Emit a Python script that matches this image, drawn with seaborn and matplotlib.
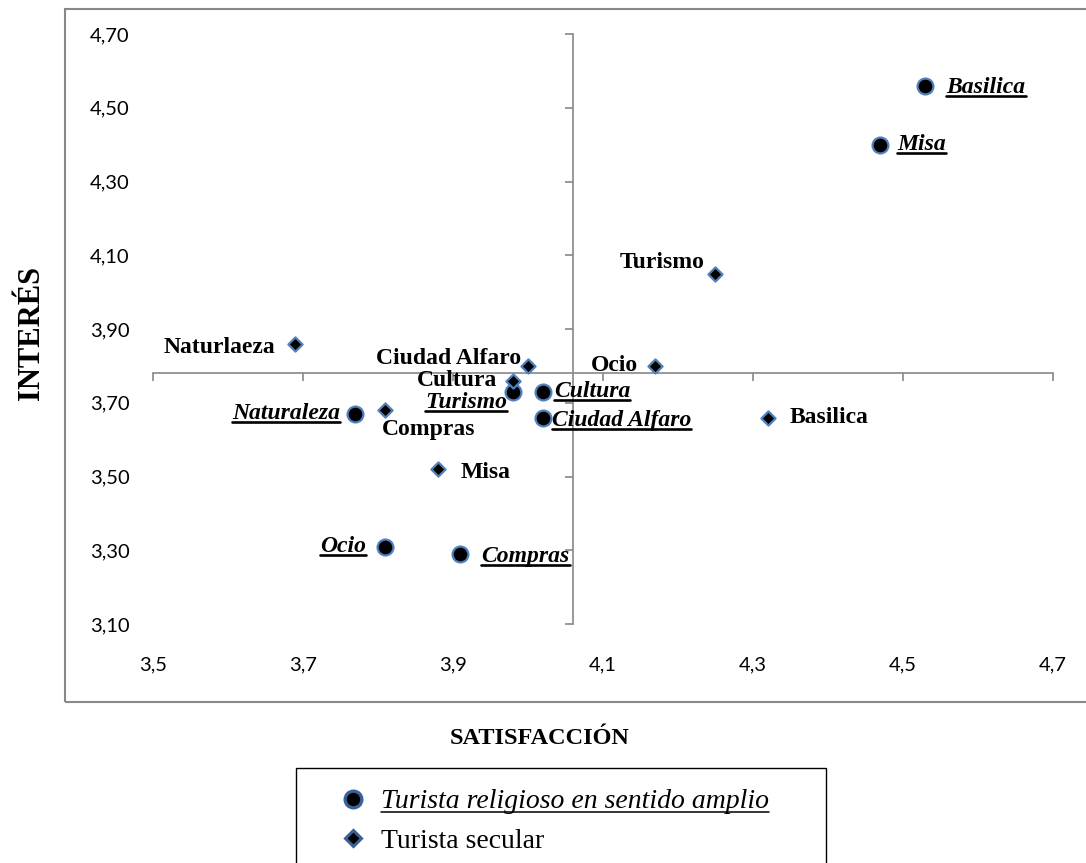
import matplotlib
matplotlib.use("Agg")
import matplotlib.pyplot as plt
from matplotlib.lines import Line2D
from matplotlib.patches import Rectangle
import seaborn as sns
import pandas as pd

# datos: turista religioso en sentido amplio (circulos)
act_rel = ['Basilica', 'Misa', 'Cultura', 'Turismo', 'Ciudad Alfaro', 'Naturaleza', 'Ocio', 'Compras']
sat_rel = [4.53, 4.47, 4.02, 3.98, 4.02, 3.77, 3.81, 3.91]
int_rel = [4.56, 4.40, 3.73, 3.73, 3.66, 3.67, 3.31, 3.29]

# datos: turista secular (rombos)
act_sec = ['Turismo', 'Ocio', 'Basilica', 'Naturlaeza', 'Ciudad Alfaro', 'Cultura', 'Compras', 'Misa']
sat_sec = [4.25, 4.17, 4.32, 3.69, 4.00, 3.98, 3.81, 3.88]
int_sec = [4.05, 3.80, 3.66, 3.86, 3.80, 3.76, 3.68, 3.52]

grupos = ['Turista religioso en sentido amplio', 'Turista secular']

x_ticks = [3.5, 3.7, 3.9, 4.1, 4.3, 4.5, 4.7]
x_ticklabels = ['3,5', '3,7', '3,9', '4,1', '4,3', '4,5', '4,7']
y_ticks = [3.10, 3.30, 3.50, 3.70, 3.90, 4.10, 4.30, 4.50, 4.70]
y_ticklabels = ['3,10', '3,30', '3,50', '3,70', '3,90', '4,10', '4,30', '4,50', '4,70']
cruce_x = 4.06   # donde se cruzan los ejes
cruce_y = 3.78

# desplazamiento de etiquetas (px) y alineacion
off_rel = [(21, -2, 'left'), (17, 0, 'left'), (11, 0, 'left'), (-6, -11, 'right'),
           (9, -3, 'left'), (-15, 0, 'right'), (-19, 0, 'right'), (21, -3, 'left')]
off_sec = [(-11, 11, 'right'), (-17, 0, 'right'), (22, 0, 'left'), (-20, -4, 'right'),
           (-7, 7, 'right'), (-16, 0, 'right'), (43, -19, 'center'), (23, -3, 'left')]

df_rel = pd.DataFrame({'sat': sat_rel, 'int': int_rel, 'act': act_rel})
df_sec = pd.DataFrame({'sat': sat_sec, 'int': int_sec, 'act': act_sec})

sns.set_style('white')
plt.rcParams['font.family'] = ['Liberation Serif', 'DejaVu Serif']
plt.rcParams['text.color'] = 'black'

W, H = 1086, 863
fig = plt.figure(figsize=(W / 100, H / 100), dpi=100)
ax = fig.add_axes([153 / W, (H - 624) / H, 900 / W, 590 / H])

sns.scatterplot(data=df_rel, x='sat', y='int', marker='o', s=130, color='black',
                edgecolor='#4f81bd', linewidth=1.6, ax=ax, legend=False, zorder=3)
sns.scatterplot(data=df_sec, x='sat', y='int', marker='D', s=52, color='black',
                edgecolor='#4f81bd', linewidth=1.6, ax=ax, legend=False, zorder=3)

ax.set_xlim(3.5, 4.7)
ax.set_ylim(3.10, 4.70)
ax.set_xlabel('')
ax.set_ylabel('')
for s in ax.spines.values():
    s.set_visible(False)
ax.set_xticks(x_ticks, x_ticklabels, fontfamily='Lato', fontsize=14.5)
ax.set_yticks(y_ticks, y_ticklabels, fontfamily='Lato', fontsize=14.5)
ax.tick_params(axis='both', length=0, colors='black')
ax.tick_params(axis='x', pad=23)
ax.tick_params(axis='y', pad=17)

# ejes que se cruzan
gris = '#888888'
sx = ax.secondary_xaxis((cruce_y - 3.10) / (4.70 - 3.10))
sx.set_xticks(x_ticks)
sx.tick_params(direction='out', length=6, width=1.2, color=gris,
               labelbottom=False, labeltop=False)
sy = ax.secondary_yaxis((cruce_x - 3.5) / (4.7 - 3.5))
sy.set_yticks(y_ticks)
sy.tick_params(direction='out', length=6, width=1.2, color=gris,
               labelleft=False, labelright=False)
for a in (sx, sy):
    for s in a.spines.values():
        s.set_color(gris)
        s.set_linewidth(1.2)

subrayar = []
for i in range(len(act_rel)):
    dx, dy, ha = off_rel[i]
    t = ax.annotate(act_rel[i], (sat_rel[i], int_rel[i]), xytext=(dx, dy),
                    textcoords='offset pixels', ha=ha, va='center', fontsize=17,
                    fontweight='bold', fontstyle='italic', zorder=4)
    subrayar.append((t, 1.9))
for i in range(len(act_sec)):
    dx, dy, ha = off_sec[i]
    ax.annotate(act_sec[i], (sat_sec[i], int_sec[i]), xytext=(dx, dy),
                textcoords='offset pixels', ha=ha, va='center', fontsize=17,
                fontweight='bold', zorder=4)

fig.text(540 / W, 1 - 738 / H, 'SATISFACCIÓN', ha='center', va='center',
         fontsize=17.5, fontweight='bold')
fig.text(31 / W, 1 - 333 / H, 'INTERÉS', ha='center', va='center', rotation=90,
         fontsize=22, fontweight='bold')

# marco del grafico
fig.add_artist(Rectangle((65 / W, 1 - 702 / H), (1100 - 65) / W, (702 - 9) / H,
                         transform=fig.transFigure, fill=False, edgecolor='#898989', lw=1.5))

# leyenda
handles = [Line2D([], [], marker='o', ls='none', markersize=12, markerfacecolor='black',
                  markeredgecolor='#3a6195', markeredgewidth=2.4),
           Line2D([], [], marker='D', ls='none', markersize=8.5, markerfacecolor='black',
                  markeredgecolor='#3a6195', markeredgewidth=2.2)]
leg = fig.legend(handles, grupos, loc='upper left', bbox_to_anchor=(339 / W, 1 - 789 / H),
                 frameon=False, fontsize=20, handlelength=1.0, handletextpad=0.5,
                 borderpad=0, borderaxespad=0, labelspacing=0.5)
leg.get_texts()[0].set_fontstyle('italic')
subrayar.append((leg.get_texts()[0], 1.1))
fig.add_artist(Rectangle((296 / W, 1 - 880 / H), (826 - 296) / W, (880 - 768) / H,
                         transform=fig.transFigure, fill=False, edgecolor='black', lw=1.0))

# subrayado a mano
fig.canvas.draw()
r = fig.canvas.get_renderer()
inv = fig.transFigure.inverted()
for t, lw in subrayar:
    bb = t.get_window_extent(r)
    fs = t.get_fontsize() * 100 / 72
    y = bb.y0 + 0.09 * fs
    (x0, y0), (x1, _) = inv.transform([(bb.x0, y), (bb.x1, y)])
    fig.add_artist(Line2D([x0, x1], [y0, y0], transform=fig.transFigure, color='black', lw=lw))

fig.savefig('out.png', dpi=100)
